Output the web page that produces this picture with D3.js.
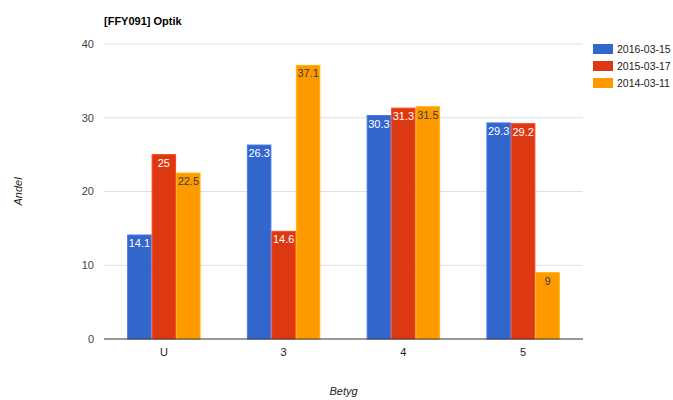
<!DOCTYPE html>
<html><head><meta charset="utf-8">
<script src="https://cdn.jsdelivr.net/npm/d3@7"></script>
<style>body{margin:0;background:#fff;} svg{display:block;font-family:Arial,"Liberation Sans",sans-serif;}</style>
</head><body>
<script>
const title = "[FFY091] Optik";
const categories = ["U", "3", "4", "5"];
const seriesNames = ["2016-03-15", "2015-03-17", "2014-03-11"];
const seriesColors = ["#3366cc", "#dc3912", "#ff9900"];
const labelColors = ["#ffffff", "#ffffff", "#3d3d3d"];
const values2016 = [14.1, 26.3, 30.3, 29.3];
const values2015 = [25, 14.6, 31.3, 29.2];
const values2014 = [22.5, 37.1, 31.5, 9];
const yTicks = [0, 10, 20, 30, 40];
const xTitle = "Betyg";
const yTitle = "Andel";

const seriesValues = [values2016, values2015, values2014];
const W = 673, H = 400;
const m = {left: 104, right: 90, top: 44, bottom: 61};
const svg = d3.select("body").append("svg").attr("width", W).attr("height", H);

const x = d3.scaleBand().domain(categories).range([m.left, W - m.right]).paddingInner(0.387).paddingOuter(0.1935);
const xs = d3.scaleBand().domain(seriesNames).range([0, x.bandwidth()]);
const y = d3.scaleLinear().domain([0, 40]).range([H - m.bottom, m.top]);

// gridlines
svg.append("g").selectAll("line").data(yTicks.filter(t => t !== 0)).join("line")
  .attr("x1", m.left).attr("x2", W - m.right)
  .attr("y1", d => y(d)).attr("y2", d => y(d))
  .attr("stroke", "#e0e0e0").attr("stroke-width", 1);

// y tick labels
svg.append("g").selectAll("text").data(yTicks).join("text")
  .attr("x", 94).attr("y", d => y(d)).attr("dy", "0.35em")
  .attr("text-anchor", "end").attr("font-size", 11).attr("fill", "#444")
  .text(d => d);

// bars
const data = [];
categories.forEach((c, i) => seriesNames.forEach((s, j) => data.push({c, s, j, v: seriesValues[j][i]})));
const g = svg.append("g");
g.selectAll("rect").data(data).join("rect")
  .attr("x", d => x(d.c) + xs(d.s) + 0.5)
  .attr("width", xs.bandwidth() - 1)
  .attr("y", d => y(d.v))
  .attr("height", d => y(0) - y(d.v))
  .attr("fill", d => seriesColors[d.j])
  .attr("stroke", d => d3.color(seriesColors[d.j]).brighter(0.5))
  .attr("stroke-width", 1);
g.selectAll("text").data(data).join("text")
  .attr("x", d => x(d.c) + xs(d.s) + xs.bandwidth() / 2)
  .attr("y", d => y(d.v) + 12)
  .attr("text-anchor", "middle").attr("font-size", 11)
  .attr("fill", d => labelColors[d.j])
  .text(d => d.v);

// baseline
svg.append("line").attr("x1", m.left).attr("x2", W - m.right)
  .attr("y1", y(0)).attr("y2", y(0)).attr("stroke", "#333").attr("stroke-width", 1);

// x labels
svg.append("g").selectAll("text").data(categories).join("text")
  .attr("x", d => x(d) + x.bandwidth() / 2).attr("y", y(0) + 17)
  .attr("text-anchor", "middle").attr("font-size", 11).attr("fill", "#222")
  .text(d => d);

// title
svg.append("text").attr("x", 104).attr("y", 25).attr("font-size", 11).attr("font-weight", "bold")
  .attr("fill", "#000").text(title);

// axis titles
svg.append("text").attr("x", (m.left + W - m.right) / 2).attr("y", 395)
  .attr("text-anchor", "middle").attr("font-size", 11).attr("font-style", "italic").attr("fill", "#222").text(xTitle);
svg.append("text").attr("transform", `translate(22,${(y(0) + y(40)) / 2}) rotate(-90)`)
  .attr("text-anchor", "middle").attr("font-size", 11).attr("font-style", "italic").attr("fill", "#222").text(yTitle);

// legend
const lg = svg.append("g").selectAll("g").data(seriesNames).join("g")
  .attr("transform", (d, i) => `translate(593,${44 + i * 17})`);
lg.append("rect").attr("width", 20).attr("height", 10).attr("fill", (d, i) => seriesColors[i]);
lg.append("text").attr("x", 24).attr("y", 5).attr("dy", "0.35em").attr("font-size", 10.5).attr("fill", "#222").text(d => d);
</script>
</body></html>
